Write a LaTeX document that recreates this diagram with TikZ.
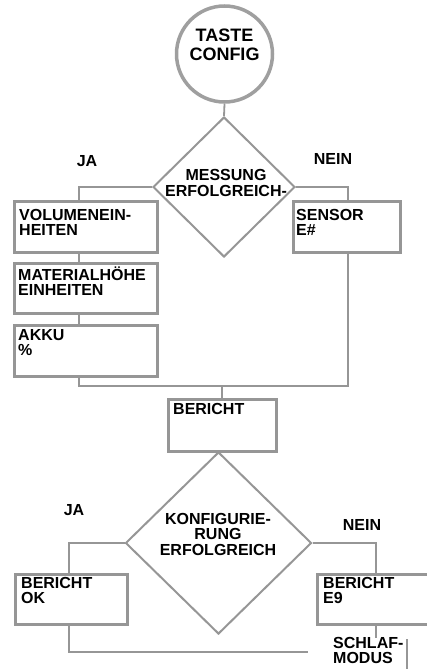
\documentclass[tikz,border=0pt]{standalone}
\usepackage{fontspec}
\setmainfont{Liberation Sans}
\usetikzlibrary{shapes.geometric,calc}
\definecolor{lg}{RGB}{150,150,150}
\begin{document}
\begin{tikzpicture}[x=1pt,y=-1pt,
  box/.style={draw=lg, line width=2.6pt, fill=white, inner sep=0pt, anchor=north west},
  dia/.style={draw=lg, line width=2pt, shape=diamond, inner sep=0pt},
  txt/.style={font=\bfseries\fontsize{16}{15.5}\selectfont, align=left, anchor=base west, inner sep=0pt},
  ctxt/.style={font=\bfseries\fontsize{16}{15.5}\selectfont, align=center, inner sep=0pt},
  conn/.style={draw=lg, line width=1.8pt}]
\useasboundingbox (0,0) rectangle (427,669);
% start
\node[circle, draw=gray!75, line width=3.5pt, minimum size=96pt, inner sep=0pt] (start) at (224.5,54) {};
\node[ctxt, font=\bfseries\fontsize{18}{18.5}\selectfont] (starttxt) at (224.5,45) {TASTE\\CONFIG};
% decision 1
\node[dia, minimum width=142pt, minimum height=140pt] (d1) at (224,187) {};
\node[ctxt] (d1txt) at (226,183) {MESSUNG\\ERFOLGREICH-};
\node[ctxt] (ja1) at (87,161) {JA};
\node[ctxt] (nein1) at (333,158.5) {NEIN};
% boxes left
\node[box, minimum width=143pt, minimum height=51pt] (b1) at (13,200) {};
\node[txt] (b1t) at (19,235.5) {VOLUMENEIN-\\HEITEN};
\node[box, minimum width=143pt, minimum height=50pt] (b2) at (13,262) {};
\node[txt] (b2t) at (18,295.5) {MATERIALHÖHE\\EINHEITEN};
\node[box, minimum width=143pt, minimum height=51pt] (b3) at (13,324) {};
\node[txt] (b3t) at (18,355.5) {AKKU\\\%};
% box right
\node[box, minimum width=107pt, minimum height=51pt] (sen) at (292,200) {};
\node[txt] (sent) at (296,235.5) {SENSOR\\E\#};
% bericht
\node[box, minimum width=108pt, minimum height=52pt] (ber) at (167,398) {};
\node[txt] (bert) at (173,414) {BERICHT};
% decision 2
\node[dia, minimum width=186pt, minimum height=182pt] (d2) at (218.5,543) {};
\node[ctxt] (d2txt) at (218,534) {KONFIGURIE-\\RUNG\\ERFOLGREICH};
\node[ctxt] (ja2) at (74,510.5) {JA};
\node[ctxt] (nein2) at (362,524.5) {NEIN};
% result boxes
\node[box, minimum width=112pt, minimum height=50pt] (ok) at (14,573) {};
\node[txt] (okt) at (21,603.5) {BERICHT\\OK};
\node[box, minimum width=112pt, minimum height=50pt] (e9) at (316,573) {};
\node[txt] (e9t) at (323,603.5) {BERICHT\\E9};
% sleep
\node[txt] (sl) at (333,663.5) {SCHLAF-\\MODUS};
\coordinate (slr) at (407,639);
\coordinate (slb) at (407,669);
% helper coordinates
\coordinate (xl) at (79,0);
\coordinate (xr) at (348,0);
\coordinate (yj) at (0,386);
\coordinate (xc) at (222,0);
\coordinate (xok) at (69,0);
\coordinate (xe9) at (376,0);
\coordinate (ys) at (0,652);
\coordinate (sleepin) at (376,638);
\coordinate (okend) at (308,652);
% connectors
\draw[conn] (start.south) -- (d1.north);
\draw[conn] (d1.west) -| (b1.north -| xl);
\draw[conn] (d1.east) -| (sen.north -| xr);
\draw[conn] (b1.south -| xl) -- (b2.north -| xl);
\draw[conn] (b2.south -| xl) -- (b3.north -| xl);
\draw[conn] (sen.south -| xr) -- (yj -| xr) -- (yj -| xl) -- (b3.south -| xl);
\draw[conn] (yj -| xc) -- (ber.north -| xc);
\draw[conn] (ber.south -| d2.north) -- (d2.north);
\draw[conn] (d2.west) -| (ok.north -| xok);
\draw[conn] (d2.east) -| (e9.north -| xe9);
\draw[conn] (e9.south -| xe9) -- (sleepin);
\draw[conn] (ok.south -| xok) -- (ys -| xok) -- (okend);
\draw[draw=lg, line width=2.4pt] (slr) -- (slb);
\end{tikzpicture}
\end{document}
